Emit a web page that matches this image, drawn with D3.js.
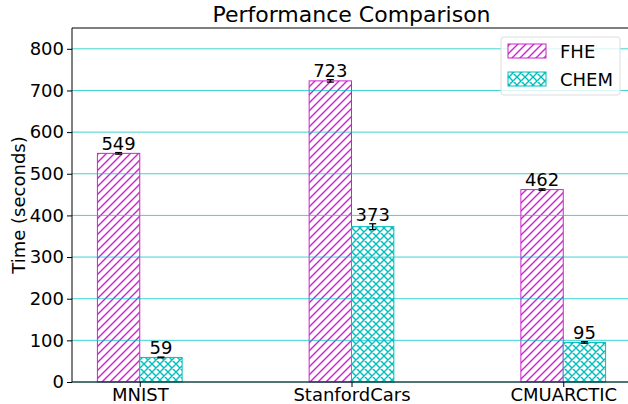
<!DOCTYPE html>
<html>
<head>
<meta charset="utf-8">
<script src="https://cdn.jsdelivr.net/npm/d3@7"></script>
<style>
  body { margin: 0; background: #fff; }
  text { font-family: "DejaVu Sans", sans-serif; }
</style>
</head>
<body>
<div id="chart"></div>
<script>
// data
const datasets = ["MNIST", "StanfordCars", "CMUARCTIC"];
const fheTimes = [549, 723, 462];
const fheErr = [2, 3, 2];
const chemTimes = [59, 373, 95];
const chemErr = [1, 7, 2];
const yTicks = [0, 100, 200, 300, 400, 500, 600, 700, 800];

const svgWidth = 628, svgHeight = 404;
const margin = { top: 28, right: -3, bottom: 22, left: 72 };
const chartWidth = svgWidth - margin.left - margin.right;
const chartHeight = svgHeight - margin.top - margin.bottom;

const svg = d3.select('#chart').append('svg')
    .attr('width', svgWidth)
    .attr('height', svgHeight);

// hatch patterns
const defs = svg.append('defs');
const fheColor = '#cc22cc', chemColor = '#00bfbf';

const p1 = defs.append('pattern')
    .attr('id', 'hatchFHE')
    .attr('patternUnits', 'userSpaceOnUse')
    .attr('width', 8).attr('height', 8);
p1.append('rect').attr('width', 8).attr('height', 8).attr('fill', '#fff');
p1.append('path')
    .attr('d', 'M0,8 L8,0 M-2,2 L2,-2 M6,10 L10,6')
    .style('fill', 'none')
    .style('stroke', fheColor).style('stroke-width', 1.4);

const p2 = defs.append('pattern')
    .attr('id', 'hatchCHEM')
    .attr('patternUnits', 'userSpaceOnUse')
    .attr('width', 8).attr('height', 8);
p2.append('rect').attr('width', 8).attr('height', 8).attr('fill', '#fff');
p2.append('path')
    .attr('d', 'M0,8 L8,0 M-2,2 L2,-2 M6,10 L10,6 M0,0 L8,8 M-2,6 L2,10 M6,-2 L10,2')
    .style('fill', 'none')
    .style('stroke', chemColor).style('stroke-width', 1.4);

const chartGroup = svg.append('g')
    .attr('transform', `translate(${margin.left}, ${margin.top})`);

// x in category units, like matplotlib (bars -0.2..2.2 plus 5% margin)
const xScale = d3.scaleLinear([-0.32, 2.32], [0, chartWidth]);
const yScale = d3.scaleLinear([0, 850], [chartHeight, 0]);
const barW = xScale(0.2) - xScale(0);

// bars
const series = [
    { name: 'FHE', vals: fheTimes, errs: fheErr, off: -0.2, fill: 'url(#hatchFHE)', color: fheColor },
    { name: 'CHEM', vals: chemTimes, errs: chemErr, off: 0, fill: 'url(#hatchCHEM)', color: chemColor }
];

series.forEach(s => {
    const g = chartGroup.append('g');
    g.selectAll('rect')
        .data(s.vals)
        .enter()
        .append('rect')
        .attr('x', (d, i) => xScale(i + s.off))
        .attr('y', d => yScale(d))
        .attr('width', barW)
        .attr('height', d => yScale(0) - yScale(d))
        .style('fill', s.fill)
        .style('stroke', s.color)
        .style('stroke-width', 1);
});

// grid on top of bars
chartGroup.append('g')
    .selectAll('line')
    .data(yTicks)
    .enter()
    .append('line')
    .attr('x1', 0).attr('x2', chartWidth)
    .attr('y1', d => yScale(d)).attr('y2', d => yScale(d))
    .attr('stroke', '#00c4c4')
    .attr('stroke-opacity', 0.75)
    .attr('stroke-width', 1);

// error bars + labels
series.forEach(s => {
    const cx = i => xScale(i + s.off) + barW / 2;
    const g = chartGroup.append('g');
    s.vals.forEach((v, i) => {
        g.append('line')
            .attr('x1', cx(i)).attr('x2', cx(i))
            .attr('y1', yScale(v - s.errs[i])).attr('y2', yScale(v + s.errs[i]))
            .attr('stroke', '#000').attr('stroke-width', 1.5);
        [v - s.errs[i], v + s.errs[i]].forEach(e => {
            g.append('line')
                .attr('x1', cx(i) - 3.5).attr('x2', cx(i) + 3.5)
                .attr('y1', yScale(e)).attr('y2', yScale(e))
                .attr('stroke', '#000').attr('stroke-width', 1.2);
        });
        g.append('text')
            .attr('x', cx(i))
            .attr('y', yScale(v + s.errs[i]) - 3)
            .attr('text-anchor', 'middle')
            .style('font-size', '18px')
            .text(v);
    });
});

// axes
const xAxis = d3.axisBottom(xScale).tickValues([0, 1, 2]).tickFormat(i => datasets[i]).tickSize(5);
const yAxis = d3.axisLeft(yScale).tickValues(yTicks).tickSize(5);

const gx = chartGroup.append('g')
    .attr('transform', `translate(0, ${chartHeight})`)
    .call(xAxis);
const gy = chartGroup.append('g').call(yAxis);
[gx, gy].forEach(g => {
    g.select('.domain').remove();
    g.selectAll('text').style('font-size', '18px').attr('fill', '#000');
    g.selectAll('line').attr('stroke', '#000');
});
gx.selectAll('text').attr('y', 6).attr('dy', '0.7em');

// spines
chartGroup.append('line')
    .attr('x1', 0).attr('x2', 0).attr('y1', 0).attr('y2', chartHeight)
    .attr('stroke', '#000').attr('stroke-width', 1);
chartGroup.append('line')
    .attr('x1', 0).attr('x2', chartWidth).attr('y1', chartHeight).attr('y2', chartHeight)
    .attr('stroke', '#000').attr('stroke-width', 1);
chartGroup.append('line')
    .attr('x1', 0).attr('x2', chartWidth).attr('y1', 0).attr('y2', 0)
    .attr('stroke', '#000').attr('stroke-width', 1);

// title
svg.append('text')
    .attr('x', margin.left + chartWidth / 2)
    .attr('y', 22)
    .attr('text-anchor', 'middle')
    .style('font-size', '22px')
    .text('Performance Comparison');

// y label
svg.append('text')
    .attr('transform', `translate(25, ${margin.top + chartHeight / 2}) rotate(-90)`)
    .attr('text-anchor', 'middle')
    .style('font-size', '18px')
    .text('Time (seconds)');

// legend
const legend = svg.append('g').attr('transform', 'translate(501, 37)');
legend.append('rect')
    .attr('width', 119).attr('height', 58).attr('rx', 3)
    .attr('fill', '#fff').attr('fill-opacity', 0.8)
    .attr('stroke', '#ddd');
series.forEach((s, i) => {
    legend.append('rect')
        .attr('x', 7).attr('y', 7 + i * 28)
        .attr('width', 38).attr('height', 14)
        .style('fill', s.fill).style('stroke', s.color);
    legend.append('text')
        .attr('x', 59).attr('y', 21 + i * 28)
        .style('font-size', '18px')
        .text(s.name);
});
</script>
</body>
</html>
